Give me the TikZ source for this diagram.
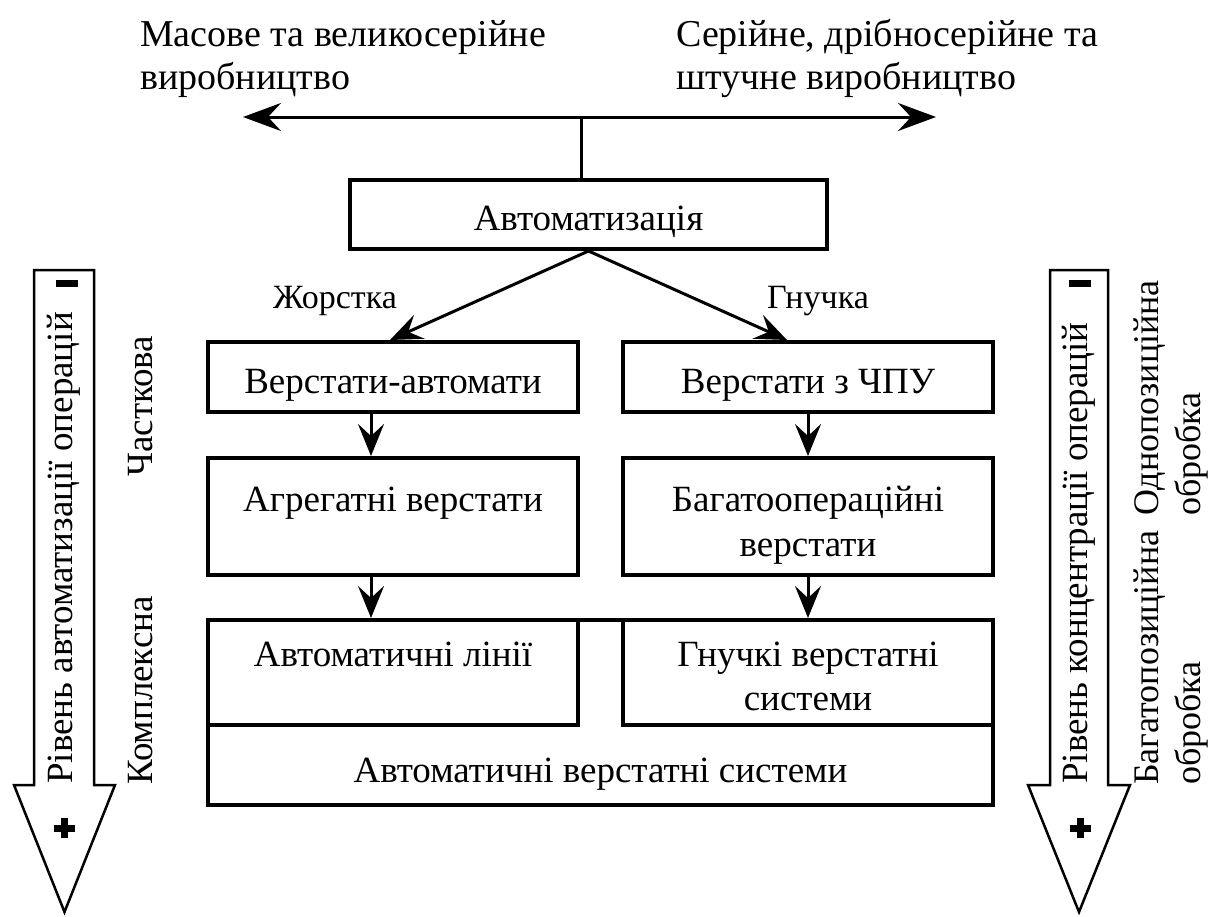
\documentclass[tikz,border=0pt]{standalone}
\usepackage{fontspec}
\setmainfont{Liberation Serif}
\usetikzlibrary{arrows.meta}
\tikzset{
  box/.style={draw, line width=4pt, inner sep=0pt, minimum width=370pt},
  txt/.style={font=\fontsize{37}{45}\selectfont, inner sep=0pt},
  toptxt/.style={font=\fontsize{38}{43}\selectfont, inner sep=0pt},
  sidetxt/.style={font=\fontsize{36}{42}\selectfont, inner sep=0pt},
  smalltxt/.style={font=\fontsize{34}{40}\selectfont, inner sep=0pt},
  conn/.style={line width=3pt, -{Stealth[length=32pt,width=26pt,inset=12pt]}},
  bigarrow/.style={draw, line width=2.5pt, line join=miter},
  signbar/.style={line width=7pt}
}
\begin{document}
\begin{tikzpicture}[x=1pt,y=-1pt]
\useasboundingbox (0,0) rectangle (1221,916);
% top texts
\node[toptxt, anchor=base west] (mass) at (140,46) {Масове та великосерійне};
\node[toptxt, anchor=base west] (mass2) at (140,89) {виробництво};
\node[toptxt, anchor=base west] (ser) at (676,46) {Серійне, дрібносерійне та};
\node[toptxt, anchor=base west] (ser2) at (676,89) {штучне виробництво};
% top double arrow
\coordinate (L) at (243,117);
\coordinate (R) at (936,117);
\draw[line width=3pt, {Stealth[length=38pt,width=28pt,inset=13pt]}-{Stealth[length=38pt,width=28pt,inset=13pt]}] (L) -- (R);
% boxes
\node[box, minimum width=477pt, minimum height=69pt] (auto) at (588.5,214.5) {};
\node[txt, anchor=base] at (588.5,230) {Автоматизація};
\draw[line width=2.5pt] ([xshift=-7pt]auto.north) -- ([xshift=-7pt]auto.north |- L);

\node[box, minimum height=70pt] (a1) at (393,377) {};
\node[txt, anchor=base] at (393,393) {Верстати-автомати};
\node[box, minimum height=70pt] (b1) at (808,377) {};
\node[txt, anchor=base] at (808,393) {Верстати з ЧПУ};

\node[box, minimum height=117pt] (a2) at (393,516.5) {};
\node[txt, anchor=base] at (393,511) {Агрегатні верстати};
\node[box, minimum height=117pt] (b2) at (808,516.5) {};
\node[txt, anchor=base] at (808,511) {Багатоопераційні};
\node[txt, anchor=base] at (808,556) {верстати};

\node[box, minimum width=785pt, minimum height=185pt] (sys) at (600.5,712.5) {};
\node[box, minimum height=105pt] (a3) at (393,672.5) {};
\node[box, minimum height=105pt] (b3) at (808,672.5) {};
\node[txt, anchor=base] at (393,666) {Автоматичні лінії};
\node[txt, anchor=base] at (808,666) {Гнучкі верстатні};
\node[txt, anchor=base] at (808,710) {системи};
\node[txt, anchor=base] at (600.5,782) {Автоматичні верстатні системи};

% connectors
\draw[conn] (auto.south) -- ([xshift=-3pt]a1.north);
\draw[conn] (auto.south) -- ([xshift=-21pt]b1.north);
\node[smalltxt, anchor=base] at (335,308) {Жорстка};
\node[smalltxt, anchor=base] at (818,308) {Гнучка};
\draw[conn] ([xshift=-22pt]a1.south) -- ([xshift=-22pt]a2.north);
\draw[conn] (b1.south) -- (b2.north);
\draw[conn] ([xshift=-22pt]a2.south) -- ([xshift=-22pt]sys.north -| a2.south);
\draw[conn] (b2.south) -- (b2.south |- sys.north);

% left big arrow
\draw[bigarrow] (34,270) -- (94,270) -- (94,785) -- (115,785) -- (64.5,912) -- (14,785) -- (34,785) -- cycle;
\node[txt, rotate=90, anchor=west] (lvl1) at (64,784) {Рівень автоматизації операцій};
\draw[signbar] (56,283) -- (78,283);
\draw[signbar] (54,828) -- (75,828) (64.5,818) -- (64.5,838);
\node[txt, rotate=90, anchor=west] at (141,477) {Часткова};
\node[txt, rotate=90, anchor=west] at (141,785) {Комплексна};

% right big arrow
\draw[bigarrow] (1050,270) -- (1108,270) -- (1108,785) -- (1130,785) -- (1079,912) -- (1028,785) -- (1050,785) -- cycle;
\node[txt, rotate=90, anchor=west] (lvl2) at (1079,784) {Рівень концентрації операцій};
\draw[signbar] (1069,283) -- (1091,283);
\draw[signbar] (1070,828) -- (1091,828) (1080.5,818) -- (1080.5,838);
\node[sidetxt, rotate=90, anchor=west, align=left] at (1171,516) {Однопозиційна\\обробка};
\node[sidetxt, rotate=90, anchor=west, align=left] at (1171,785) {Багатопозиційна\\обробка};
\end{tikzpicture}
\end{document}
